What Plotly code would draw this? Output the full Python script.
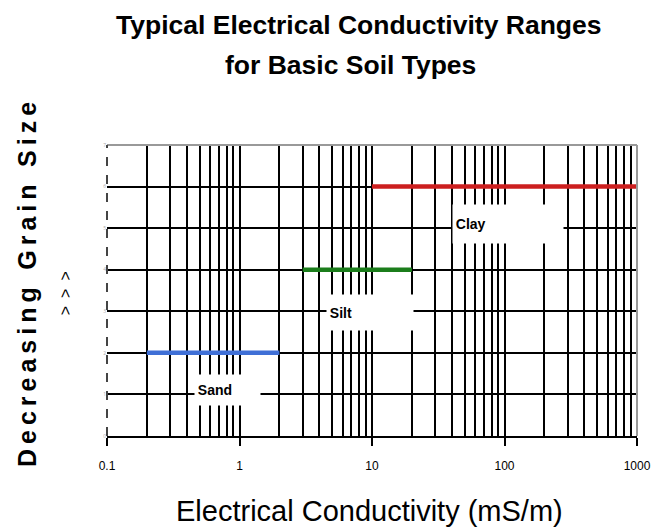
import plotly.graph_objects as go

soil_types = ["Sand", "Silt", "Clay"]
ec_low = [0.2, 3, 10]
ec_high = [2, 20, 1000]
grain_level = [2, 4, 6]
line_colors = ["#3f6fd6", "#1b7d1b", "#cc1f1f"]

# label box placement (log10 of x, y level, box size in px)
label_logx = [-0.09, 0.985, 2.026]
label_y = [1.11, 2.97, 5.10]
label_w = [65, 86, 110]
label_h = [30, 35, 38]

x_ticks = [0.1, 1, 10, 100, 1000]
x_ticktext = ["0.1", "1", "10", "100", "1000"]
y_ticks = [0, 1, 2, 3, 4, 5, 6, 7]

FONT = "Liberation Sans, Arial, sans-serif"
SP = "\u2009"   # thin space for letter spacing


def spaced(s, sep):
    return sep.join(list(s))


fig = go.Figure()
for name, lo, hi, lvl, c in zip(soil_types, ec_low, ec_high, grain_level, line_colors):
    fig.add_trace(go.Scatter(x=[lo, hi], y=[lvl, lvl], mode="lines",
                             line=dict(color=c, width=4.5), name=name,
                             showlegend=False, hoverinfo="skip"))

for name, lx, ly, w, h in zip(soil_types, label_logx, label_y, label_w, label_h):
    fig.add_annotation(x=lx, y=ly, xref="x", yref="y", text="<b>\u2009" + name + "</b>",
                       showarrow=False, bgcolor="white", width=w, height=h,
                       align="left", valign="middle", borderpad=0,
                       font=dict(family=FONT, size=14, color="black"))

fig.update_layout(
    width=668, height=529,
    margin=dict(l=107, r=31, t=145, b=93),
    paper_bgcolor="white", plot_bgcolor="white",
    xaxis=dict(type="log", range=[-1, 3], tickvals=x_ticks, ticktext=x_ticktext,
               showgrid=True, gridcolor="black", gridwidth=1.5,
               minor=dict(dtick="D1", showgrid=True, gridcolor="black", gridwidth=1.5, ticks=""),
               showline=True, linecolor="black", linewidth=1.5,
               ticks="outside", ticklen=8, tickcolor="black", tickwidth=1.5,
               ticklabelstandoff=10,
               tickfont=dict(family=FONT, size=12, color="black"),
               zeroline=False),
    yaxis=dict(range=[0, 7], tickvals=y_ticks, ticktext=[str(v) for v in y_ticks],
               showgrid=True, gridcolor="black", gridwidth=1.5,
               tickfont=dict(size=5, color="#aaaaaa"), ticks="", zeroline=False,
               showline=False),
)

# title (two lines)
fig.add_annotation(x=0.475, y=1.412, xref="paper", yref="paper", xanchor="center", yanchor="middle",
                   text="<b>Typical Electrical Conductivity Ranges</b>", showarrow=False,
                   font=dict(family=FONT, size=26.5, color="black"))
fig.add_annotation(x=0.46, y=1.275, xref="paper", yref="paper", xanchor="center", yanchor="middle",
                   text="<b>for Basic Soil Types</b>", showarrow=False,
                   font=dict(family=FONT, size=26.5, color="black"))

# x-axis title
fig.add_annotation(x=0.496, y=-0.258, xref="paper", yref="paper", xanchor="center", yanchor="middle",
                   text="Electrical Conductivity (mS/m)", showarrow=False,
                   font=dict(family=FONT, size=29, color="black"))

# frame: gray top/right, dashed left
fig.add_shape(type="line", xref="paper", yref="paper", x0=0, x1=1, y0=1, y1=1,
              line=dict(color="#999999", width=2))
fig.add_shape(type="line", xref="paper", yref="paper", x0=1, x1=1, y0=0, y1=1,
              line=dict(color="#999999", width=2))
fig.add_shape(type="line", xref="paper", yref="paper", x0=0, x1=0, y0=0, y1=1,
              line=dict(color="#444444", width=2, dash="dash"))

# y-axis titles
WS = "\u2002\u2009"
fig.add_annotation(x=-0.151, y=0.522, xref="paper", yref="paper", xanchor="center", yanchor="middle",
                   text="<b>" + spaced("Decreasing", SP) + WS + spaced("Grain", SP) + WS + spaced("Size", SP) + "</b>",
                   textangle=-90, showarrow=False,
                   font=dict(family=FONT, size=25, color="black"))
fig.add_annotation(x=-0.079, y=0.491, xref="paper", yref="paper", xanchor="center", yanchor="middle",
                   text="&gt;\u2002&gt;\u2002&gt;", textangle=-90, showarrow=False,
                   font=dict(family=FONT, size=16, color="black"))

fig.write_html("out.html")
